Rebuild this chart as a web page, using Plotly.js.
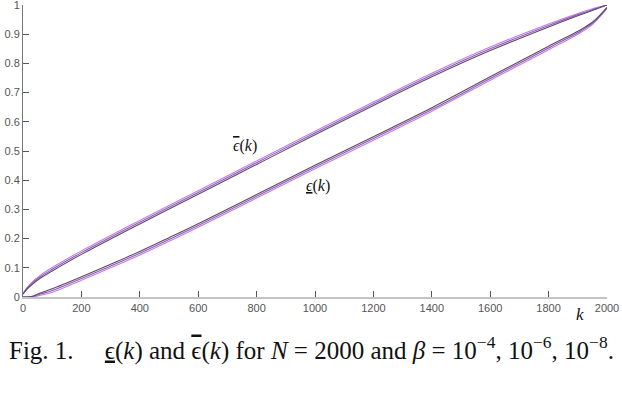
<!DOCTYPE html>
<html>
<head>
<meta charset="utf-8">
<script src="https://cdn.plot.ly/plotly-3.0.1.min.js"></script>
<style>
  html, body { margin: 0; padding: 0; background: #fff; }
  #chart { width: 622px; height: 408px; }
</style>
</head>
<body>
<div id="chart"></div>
<script>
// k values shared by all curves
const kVals = [0, 10, 30, 60, 100, 200, 300, 400, 500, 600, 800, 1000, 1200, 1400, 1600, 1800, 1900, 1950, 2000];

// upper bound eps-bar(k), one series per beta
const upperB4 = [0.01, 0.027, 0.05, 0.075, 0.101, 0.158, 0.211, 0.262, 0.313, 0.364, 0.466, 0.568, 0.668, 0.766, 0.856, 0.935, 0.971, 0.987, 1.0];
const upperB6 = [0.01, 0.025, 0.046, 0.07, 0.095, 0.152, 0.205, 0.256, 0.307, 0.358, 0.46, 0.562, 0.662, 0.76, 0.85, 0.93, 0.967, 0.984, 1.0];
const upperB8 = [0.01, 0.023, 0.042, 0.065, 0.089, 0.146, 0.199, 0.25, 0.301, 0.352, 0.454, 0.556, 0.656, 0.754, 0.844, 0.925, 0.963, 0.981, 1.0];

// lower bound eps-underbar(k)
const lowerB4 = [0, 0, 0, 0.006, 0.016, 0.057, 0.1, 0.144, 0.191, 0.239, 0.339, 0.439, 0.537, 0.636, 0.742, 0.847, 0.9, 0.933, 0.988];
const lowerB6 = [0, 0, 0.001, 0.01, 0.022, 0.063, 0.106, 0.15, 0.197, 0.245, 0.345, 0.445, 0.543, 0.642, 0.748, 0.853, 0.905, 0.937, 0.99];
const lowerB8 = [0, 0, 0.002, 0.014, 0.028, 0.069, 0.112, 0.156, 0.203, 0.251, 0.351, 0.451, 0.549, 0.648, 0.754, 0.859, 0.91, 0.941, 0.992];

const xTicks = [0, 200, 400, 600, 800, 1000, 1200, 1400, 1600, 1800, 2000];
const yTicks = [0, 0.1, 0.2, 0.3, 0.4, 0.5, 0.6, 0.7, 0.8, 0.9, 1];

const colors = ['#c07cf8', '#8f5cab', '#5f4768'];
const seriesList = [upperB4, upperB6, upperB8, lowerB4, lowerB6, lowerB8];

let traces = [];
seriesList.forEach((ys, i) => {
    traces.push({
        type: 'scatter',
        mode: 'lines',
        x: kVals,
        y: ys,
        line: { color: colors[i % 3], width: 1.1, shape: 'spline', smoothing: 1 },
        hoverinfo: 'skip',
        showlegend: false
    });
});

const tickFont = { family: 'Liberation Sans', size: 11, color: '#555' };
const mathFont = { family: 'Liberation Serif', size: 16, color: '#111' };

let layout = {
    width: 622,
    height: 408,
    margin: { l: 23, r: 15, t: 5, b: 111 },
    paper_bgcolor: '#fff',
    plot_bgcolor: '#fff',
    xaxis: {
        range: [0, 2000],
        tickvals: xTicks,
        ticktext: xTicks.map(String),
        ticks: 'inside',
        ticklen: 6,
        tickcolor: '#555',
        tickfont: tickFont,
        ticklabeloverflow: 'allow',
        showgrid: false,
        zeroline: false,
        showline: true,
        linecolor: '#c4c4c4',
        linewidth: 2,
        fixedrange: true
    },
    yaxis: {
        range: [0, 1],
        tickvals: yTicks,
        ticktext: yTicks.map(String),
        ticks: 'inside',
        ticklen: 6,
        tickcolor: '#555',
        tickfont: tickFont,
        ticklabeloverflow: 'allow',
        showgrid: false,
        zeroline: false,
        showline: true,
        linecolor: '#777',
        linewidth: 1,
        fixedrange: true
    },
    annotations: [
        {
            x: 761, y: 0.516, xref: 'x', yref: 'y',
            text: '<span style="text-decoration:overline"><i>ϵ</i></span>(<i>k</i>)',
            showarrow: false, font: mathFont
        },
        {
            x: 1011, y: 0.379, xref: 'x', yref: 'y',
            text: '<u><i>ϵ</i></u>(<i>k</i>)',
            showarrow: false, font: mathFont
        },
        {
            x: 1908, y: -0.059, xref: 'x', yref: 'paper',
            xanchor: 'center', yanchor: 'middle',
            text: '<i>k</i>',
            showarrow: false,
            font: { family: 'Liberation Serif', size: 17, color: '#111' }
        },
        {
            x: 0.494, y: -0.175, xref: 'paper', yref: 'paper',
            xanchor: 'center', yanchor: 'middle',
            text: 'Fig. 1.     <u>ϵ</u>(<i>k</i>) and <span style="text-decoration:overline">ϵ</span>(<i>k</i>) for <i>N</i> = 2000 and <i>β</i> = 10<sup>−4</sup>, 10<sup>−6</sup>, 10<sup>−8</sup>.',
            showarrow: false,
            font: { family: 'Liberation Serif', size: 25, color: '#111' }
        }
    ]
};

Plotly.newPlot('chart', traces, layout, { displayModeBar: false, staticPlot: true });
</script>
</body>
</html>
